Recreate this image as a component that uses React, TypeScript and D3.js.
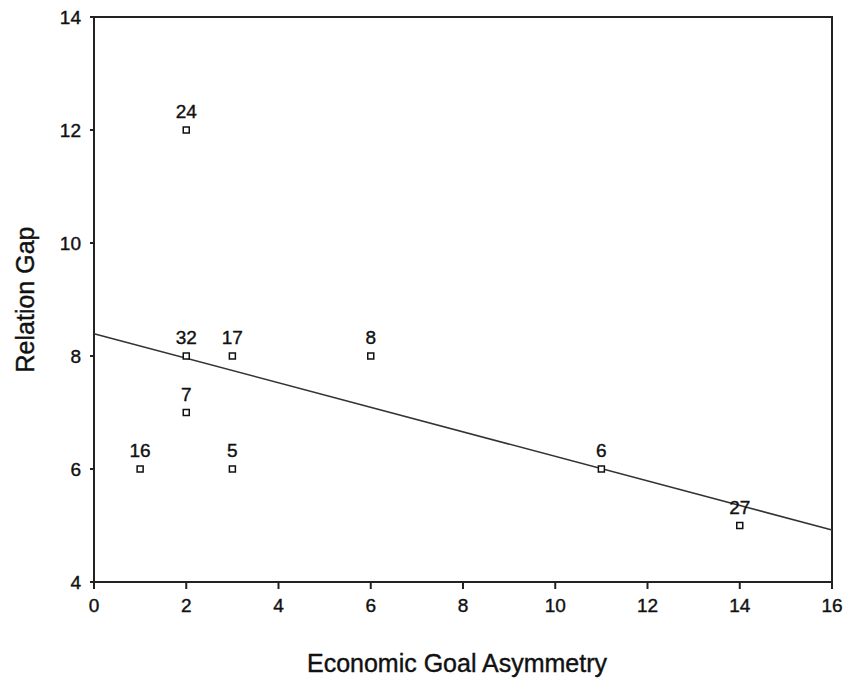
import React from "react";
import * as d3 from "d3";

const pointIds = ["24", "32", "17", "8", "7", "16", "5", "6", "27"];
const xValues = [2, 2, 3, 6, 2, 1, 3, 11, 14];
const yValues = [12, 8, 8, 8, 7, 6, 6, 6, 5];
const xTicks = [0, 2, 4, 6, 8, 10, 12, 14, 16];
const yTicks = [4, 6, 8, 10, 12, 14];
const xTitle = "Economic Goal Asymmetry";
const yTitle = "Relation Gap";

export default function App() {
  const W = 844, H = 681;
  const left = 94, right = 832, top = 17, bottom = 582;
  const x = d3.scaleLinear().domain([0, 16]).range([left, right]);
  const y = d3.scaleLinear().domain([4, 14]).range([bottom, top]);
  const font = "'Liberation Sans', Arial, Helvetica, sans-serif";

  // least squares fit line
  const mx = d3.mean(xValues)!;
  const my = d3.mean(yValues)!;
  let sxy = 0, sxx = 0;
  xValues.forEach((xv, i) => {
    sxy += (xv - mx) * (yValues[i] - my);
    sxx += (xv - mx) * (xv - mx);
  });
  const slope = sxy / sxx;
  const intercept = my - slope * mx;
  const line = d3.line<number>().x((d) => x(d)).y((d) => y(intercept + slope * d));

  const txt = { fill: "#111", stroke: "#111", strokeWidth: 0.4 };

  return (
    <svg width={W} height={H} style={{ position: "absolute", left: 0, top: 0, background: "#fff" }} fontFamily={font}>
      <rect x={left} y={top} width={right - left} height={bottom - top} fill="none" stroke="#222" strokeWidth={2} />
      {xTicks.map((t) => (
        <g key={"x" + t}>
          <line x1={x(t)} x2={x(t)} y1={bottom} y2={bottom + 7} stroke="#222" strokeWidth={2} />
          <text x={x(t)} y={bottom + 30} textAnchor="middle" fontSize={19} {...txt}>{t}</text>
        </g>
      ))}
      {yTicks.map((t) => (
        <g key={"y" + t}>
          <line x1={left - 4} x2={left} y1={y(t)} y2={y(t)} stroke="#222" strokeWidth={2} />
          <text x={left - 13} y={y(t) + 7} textAnchor="end" fontSize={19} {...txt}>{t}</text>
        </g>
      ))}
      <path d={line([0, 16]) ?? ""} fill="none" stroke="#333" strokeWidth={1.6} />
      {xValues.map((xv, i) => (
        <g key={"p" + i}>
          <rect x={x(xv) - 3} y={y(yValues[i]) - 3} width={6} height={6} fill="#fff" stroke="#111" strokeWidth={1.5} />
          <text x={x(xv)} y={y(yValues[i]) - 12} textAnchor="middle" fontSize={19} {...txt}>{pointIds[i]}</text>
        </g>
      ))}
      <text x={457} y={672} textAnchor="middle" fontSize={25} {...txt}>{xTitle}</text>
      <text transform={`translate(34, ${(top + bottom) / 2}) rotate(-90)`} textAnchor="middle" fontSize={25} {...txt}>{yTitle}</text>
    </svg>
  );
}
